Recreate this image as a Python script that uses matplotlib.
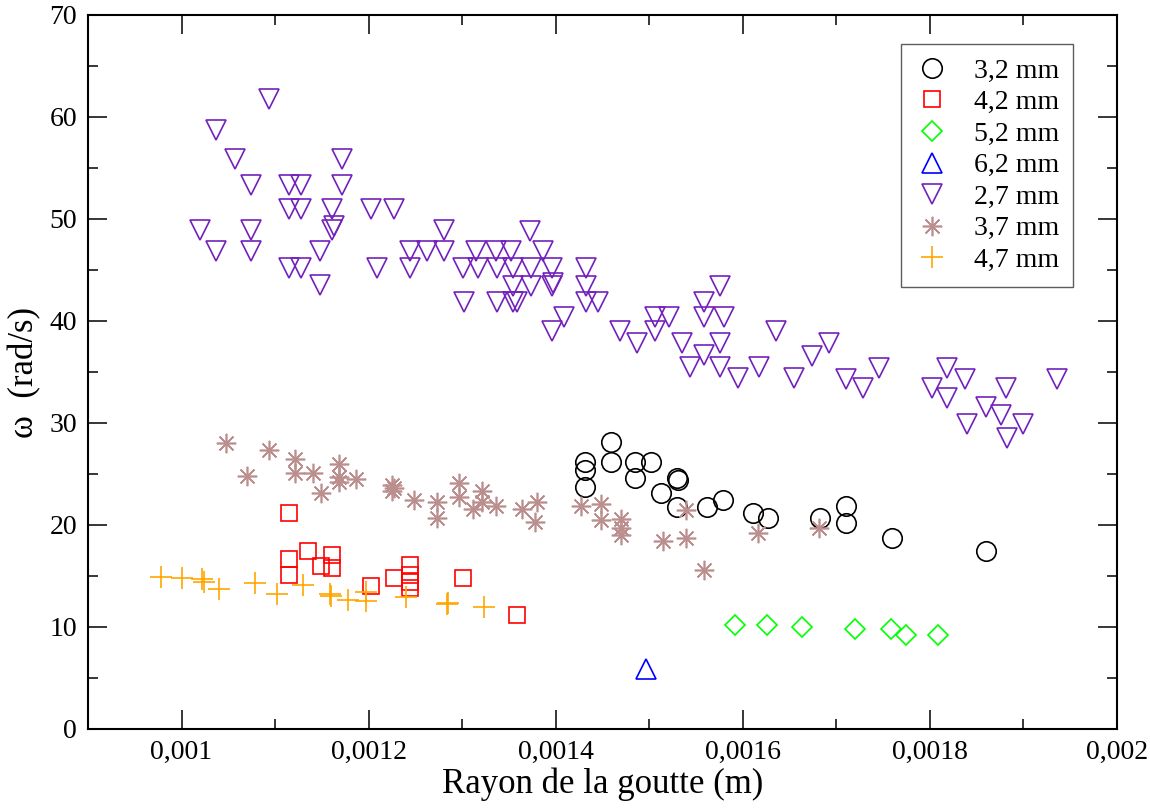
import matplotlib
matplotlib.use("Agg")
import matplotlib.pyplot as plt
from matplotlib.ticker import MultipleLocator

plt.rcParams['font.family'] = ['Liberation Serif', 'DejaVu Serif']

# 3,2 mm
r_32 = [0.001431, 0.001431, 0.001431, 0.001459, 0.001459, 0.001485, 0.001485,
        0.001502, 0.001530, 0.001531, 0.001513, 0.001530, 0.001562, 0.001579,
        0.001611, 0.001627, 0.001683, 0.001710, 0.001710, 0.001760, 0.001860]
w_32 = [26.2, 25.4, 23.75, 28.1, 26.2, 26.2, 24.6,
        26.2, 24.6, 24.4, 23.1, 21.8, 21.8, 22.45,
        21.2, 20.65, 20.7, 21.9, 20.2, 18.7, 17.45]

# 4,2 mm
r_42 = [0.001115, 0.001115, 0.001115, 0.001135, 0.001149, 0.001161, 0.001161,
        0.001203, 0.001227, 0.001244, 0.001244, 0.001244, 0.001244, 0.001301,
        0.001359]
w_42 = [21.2, 16.7, 15.1, 17.45, 16.0, 17.1, 15.75,
        14.0, 14.8, 16.1, 15.1, 14.4, 13.8, 14.8,
        11.2]

# 5,2 mm
r_52 = [0.001592, 0.001626, 0.001663, 0.001720, 0.001758, 0.001774, 0.001809]
w_52 = [10.2, 10.2, 10.0, 9.8, 9.8, 9.2, 9.2]

# 6,2 mm
r_62 = [0.001496]
w_62 = [5.9]

# 2,7 mm
r_27 = [0.001094, 0.001037, 0.001057, 0.001172, 0.001074, 0.001115, 0.001128,
        0.001172, 0.001115, 0.001128, 0.001161, 0.001203, 0.001227, 0.001020,
        0.001074, 0.001161, 0.001163, 0.001281, 0.001037, 0.001074, 0.001148,
        0.001244, 0.001262, 0.001281, 0.001115, 0.001128, 0.001209, 0.001244,
        0.001148, 0.001372, 0.001315, 0.001336, 0.001352, 0.001386, 0.001301,
        0.001317, 0.001337, 0.001354, 0.001374, 0.001396, 0.001432, 0.001354,
        0.001374, 0.001396, 0.001397, 0.001432, 0.001302, 0.001337, 0.001354,
        0.001359, 0.001432, 0.001445, 0.001409, 0.001396, 0.001506, 0.001521,
        0.001558, 0.001580, 0.001576, 0.001558, 0.001469, 0.001506, 0.001636,
        0.001487, 0.001535, 0.001576, 0.001558, 0.001544, 0.001576, 0.001595,
        0.001617, 0.001655, 0.001692, 0.001674, 0.001710, 0.001728, 0.001746,
        0.001818, 0.001837, 0.001802, 0.001818, 0.001881, 0.001860, 0.001876,
        0.001840, 0.001900, 0.001882, 0.001936]
w_27 = [61.8, 58.7, 55.9, 55.9, 53.3, 53.3, 53.3,
        53.3, 51.0, 51.0, 51.0, 51.0, 51.0, 48.9,
        48.9, 48.9, 49.3, 48.9, 46.9, 46.9, 46.9,
        46.9, 46.9, 46.9, 45.2, 45.2, 45.2, 45.2,
        43.5, 48.8, 46.9, 46.9, 46.9, 46.9, 45.2,
        45.2, 45.2, 45.2, 45.2, 45.2, 45.2, 43.4,
        43.4, 43.4, 43.7, 43.4, 41.9, 41.9, 41.9,
        41.9, 41.9, 41.9, 40.4, 39.05, 40.4, 40.4,
        40.4, 40.4, 43.4, 41.9, 39.05, 39.05, 39.05,
        37.8, 37.8, 37.8, 36.7, 35.5, 35.5, 34.4,
        35.5, 34.4, 37.8, 36.6, 34.3, 33.4, 35.4,
        35.4, 34.3, 33.4, 32.5, 33.4, 31.6, 30.8,
        29.9, 29.9, 28.5, 34.3]

# 3,7 mm
r_37 = [0.001047, 0.001093, 0.001070, 0.001121, 0.001121, 0.001141, 0.001149,
        0.001168, 0.001168, 0.001168, 0.001187, 0.001225, 0.001227, 0.001225,
        0.001249, 0.001273, 0.001273, 0.001297, 0.001297, 0.001312, 0.001321,
        0.001321, 0.001336, 0.001364, 0.001380, 0.001378, 0.001427, 0.001448,
        0.001448, 0.001470, 0.001470, 0.001470, 0.001515, 0.001539, 0.001539,
        0.001558, 0.001616, 0.001681]
w_37 = [28.07, 27.4, 24.8, 26.5, 25.1, 25.1, 23.1,
        26.0, 24.7, 24.2, 24.5, 23.9, 23.6, 23.3,
        22.45, 22.3, 20.7, 24.1, 22.7, 21.6, 23.3,
        22.3, 21.9, 21.6, 22.3, 20.3, 21.9, 22.1,
        20.5, 20.6, 19.7, 19.0, 18.4, 21.5, 18.75,
        15.6, 19.2, 19.7]

# 4,7 mm
r_47 = [0.000978, 0.001001, 0.001022, 0.001024, 0.001040, 0.001079, 0.001102,
        0.001130, 0.001159, 0.001160, 0.001178, 0.001197, 0.001197, 0.001240,
        0.001284, 0.001285, 0.001323]
w_47 = [14.9, 14.85, 14.7, 14.4, 13.7, 14.3, 13.2,
        14.1, 13.2, 13.0, 12.65, 13.4, 12.55, 12.9,
        12.3, 12.4, 12.0]

x_ticks = [0.001, 0.0012, 0.0014, 0.0016, 0.0018, 0.002]
x_tick_labels = ["0,001", "0,0012", "0,0014", "0,0016", "0,0018", "0,002"]
y_ticks = [0, 10, 20, 30, 40, 50, 60, 70]

fig = plt.figure(figsize=(11.5, 8.09), dpi=100)
ax = fig.add_axes([88 / 1150, 80 / 809, 1029 / 1150, 714 / 809])

mew = 1.2
ax.plot(r_32, w_32, 'o', ms=14, mfc='none', mec='black', mew=mew, label="3,2 mm")
ax.plot(r_42, w_42, 's', ms=12, mfc='none', mec='#ff0000', mew=mew, label="4,2 mm")
ax.plot(r_52, w_52, 'D', ms=10.5, mfc='none', mec='#00ff00', mew=mew, label="5,2 mm")
ax.plot(r_62, w_62, '^', ms=14, mfc='none', mec='#0000ff', mew=mew, label="6,2 mm")
ax.plot(r_27, w_27, 'v', ms=14, mfc='none', mec='#7221bc', mew=mew, label="2,7 mm")
ax.plot(r_37, w_37, marker=(8, 2, 0), ls='none', ms=14, color='#bc8f8f', mew=mew, label="3,7 mm")
ax.plot(r_47, w_47, '+', ms=16, color='#ffa500', mew=mew, label="4,7 mm")

ax.set_xlim(0.0009, 0.002)
ax.set_ylim(0, 70)
ax.set_xticks(x_ticks)
ax.set_xticklabels(x_tick_labels)
ax.set_yticks(y_ticks)
ax.xaxis.set_minor_locator(MultipleLocator(0.0001))
ax.yaxis.set_minor_locator(MultipleLocator(5))
ax.tick_params(which='both', direction='in', top=True, right=True, width=1.1,
               labelsize=20, pad=8)
ax.tick_params(which='major', length=14)
ax.tick_params(which='minor', length=7)
for s in ax.spines.values():
    s.set_linewidth(1.5)

ax.set_xlabel("Rayon de la goutte (m)", fontsize=25, labelpad=2)
ax.set_ylabel("ω  (rad/s)", fontsize=25, labelpad=6)

leg = ax.legend(loc='upper right', bbox_to_anchor=(0.957, 0.959), borderaxespad=0,
                numpoints=1, fontsize=20, frameon=True, fancybox=False,
                edgecolor='#333333', handlelength=1.2, handletextpad=0.9,
                labelspacing=0.22, borderpad=0.5)
leg.get_frame().set_linewidth(1.0)

fig.savefig("out.png", dpi=100)
